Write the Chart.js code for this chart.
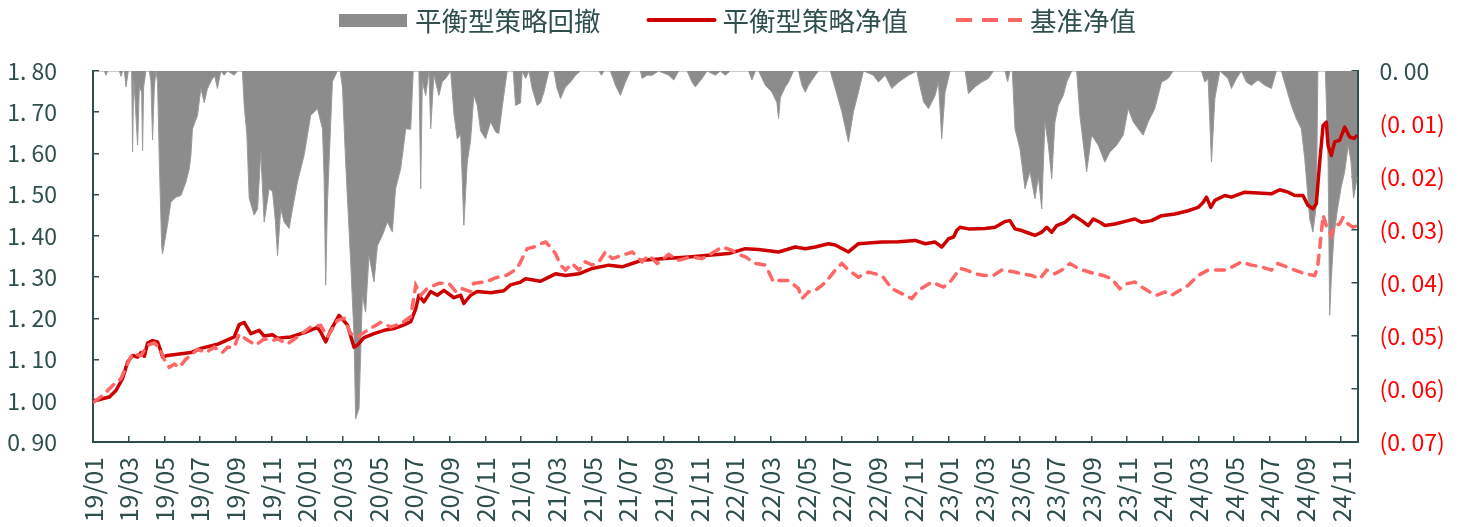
<!DOCTYPE html>
<html>
<head>
<meta charset="utf-8">
<script src="https://cdn.jsdelivr.net/npm/chart.js@4.4.1/dist/chart.umd.min.js"></script>
<style>
  html, body { margin: 0; padding: 0; background: #fff; }
  #wrap { width: 1458px; height: 527px; position: relative; }
</style>
</head>
<body>
<div id="wrap"><canvas id="chart"></canvas></div>
<script>
// x values are months counted from 2019-01 (0 = 19/01)
const tickLabels = [
  '19/01', '19/03', '19/05', '19/07', '19/09', '19/11',
  '20/01', '20/03', '20/05', '20/07', '20/09', '20/11',
  '21/01', '21/03', '21/05', '21/07', '21/09', '21/11',
  '22/01', '22/03', '22/05', '22/07', '22/09', '22/11',
  '23/01', '23/03', '23/05', '23/07', '23/09', '23/11',
  '24/01', '24/03', '24/05', '24/07', '24/09', '24/11'
];

// 平衡型策略净值
const navMonths = [
  0.07, 0.92, 1.29, 1.66, 1.94, 2.22, 2.50, 2.69, 2.88, 3.06, 3.34, 3.62, 3.77, 3.90, 4.18, 4.74,
  5.49, 6.05, 6.98, 7.92, 8.20, 8.48, 8.85, 9.32, 9.60, 10.07, 10.35, 11.09, 11.84, 12.59, 12.77, 13.05,
  13.33, 13.80, 14.27, 14.64, 14.83, 15.20, 15.76, 16.32, 16.88, 17.44, 17.82, 18.10, 18.28, 18.56, 18.94, 19.31,
  19.68, 20.24, 20.62, 20.80, 21.18, 21.55, 22.30, 23.04, 23.42, 23.98, 24.26, 25.10, 25.57, 25.94, 26.50, 27.25,
  28.00, 28.93, 29.68, 30.24, 30.80, 32.10, 33.41, 34.53, 35.65, 36.59, 37.33, 38.45, 39.39, 39.95, 40.51, 41.25,
  41.63, 42.37, 42.93, 44.24, 45.18, 46.11, 46.67, 47.23, 47.60, 47.98, 48.26, 48.44, 48.63, 49.10, 50.03, 50.59,
  51.15, 51.43, 51.71, 52.09, 52.46, 52.83, 53.21, 53.49, 53.77, 54.05, 54.51, 54.98, 55.45, 55.82, 56.10, 56.47,
  56.75, 57.31, 58.06, 58.43, 58.81, 59.37, 59.93, 60.68, 61.42, 61.98, 62.26, 62.45, 62.69, 62.92, 63.48, 63.85,
  64.60, 65.34, 66.09, 66.56, 67.02, 67.40, 67.86, 68.14, 68.42, 68.61, 68.80, 68.99, 69.17, 69.27, 69.45, 69.64,
  69.92, 70.20, 70.48, 70.72, 70.91
];
const navValues = [
  1.000, 1.009, 1.025, 1.054, 1.094, 1.110, 1.106, 1.117, 1.108, 1.140, 1.146, 1.143, 1.125, 1.106, 1.110, 1.113,
  1.117, 1.127, 1.137, 1.155, 1.185, 1.190, 1.163, 1.171, 1.157, 1.160, 1.152, 1.155, 1.165, 1.178, 1.167, 1.143,
  1.171, 1.207, 1.184, 1.130, 1.135, 1.153, 1.163, 1.171, 1.175, 1.184, 1.192, 1.223, 1.256, 1.240, 1.265, 1.256,
  1.268, 1.250, 1.256, 1.236, 1.256, 1.265, 1.262, 1.267, 1.281, 1.288, 1.296, 1.290, 1.300, 1.308, 1.304, 1.308,
  1.321, 1.329, 1.325, 1.333, 1.341, 1.345, 1.349, 1.353, 1.357, 1.369, 1.367, 1.361, 1.373, 1.369, 1.373, 1.381,
  1.378, 1.361, 1.381, 1.385, 1.386, 1.389, 1.381, 1.385, 1.373, 1.393, 1.397, 1.413, 1.421, 1.417, 1.418, 1.421,
  1.435, 1.437, 1.417, 1.413, 1.407, 1.401, 1.409, 1.421, 1.409, 1.425, 1.433, 1.450, 1.437, 1.425, 1.441, 1.433,
  1.425, 1.429, 1.437, 1.441, 1.433, 1.437, 1.449, 1.453, 1.461, 1.469, 1.481, 1.494, 1.469, 1.486, 1.498, 1.494,
  1.506, 1.504, 1.502, 1.512, 1.506, 1.498, 1.498, 1.474, 1.466, 1.478, 1.579, 1.668, 1.676, 1.619, 1.595, 1.628,
  1.632, 1.664, 1.640, 1.636, 1.644
];

// 基准净值
const benchMonths = [
  0.07, 0.64, 1.10, 1.57, 1.94, 2.22, 2.69, 3.06, 3.44, 3.72, 3.98, 4.28, 4.56, 4.84, 5.21, 5.49,
  5.86, 6.33, 6.80, 7.26, 7.54, 7.92, 8.20, 8.57, 9.13, 9.60, 10.07, 10.35, 10.91, 11.47, 12.21, 12.77,
  13.15, 13.71, 14.08, 14.45, 14.83, 15.39, 16.13, 16.69, 17.26, 17.82, 18.10, 18.38, 18.75, 19.40, 19.96, 20.34,
  20.62, 21.18, 21.36, 22.11, 22.48, 23.23, 23.79, 23.98, 24.35, 24.73, 25.10, 25.38, 25.66, 25.94, 26.22, 26.50,
  26.87, 27.25, 27.62, 28.00, 28.37, 28.74, 29.12, 29.68, 30.24, 30.80, 31.17, 31.64, 32.29, 32.85, 33.60, 34.16,
  34.53, 35.28, 35.84, 36.12, 36.59, 37.15, 37.71, 38.17, 38.45, 39.01, 39.57, 39.76, 40.13, 40.51, 40.88, 41.25,
  41.63, 42.00, 42.37, 42.93, 43.49, 44.24, 44.80, 45.36, 45.92, 46.30, 47.04, 47.70, 48.07, 48.63, 49.00, 49.47,
  50.03, 50.50, 50.96, 51.62, 52.09, 52.65, 53.11, 53.49, 53.95, 54.33, 54.79, 55.26, 55.82, 56.19, 56.66, 57.13,
  57.59, 57.97, 58.43, 58.81, 59.27, 59.65, 60.12, 60.49, 60.96, 61.42, 61.98, 62.54, 63.10, 63.57, 64.41, 64.97,
  65.53, 66.09, 66.46, 66.93, 67.40, 67.96, 68.52, 68.67, 68.80, 68.99, 69.17, 69.45, 69.64, 69.92, 70.11, 70.39,
  70.67, 70.91
];
const benchValues = [
  0.997, 1.017, 1.037, 1.054, 1.090, 1.114, 1.110, 1.135, 1.140, 1.130, 1.101, 1.081, 1.089, 1.081, 1.101, 1.110,
  1.125, 1.117, 1.130, 1.117, 1.130, 1.130, 1.162, 1.150, 1.135, 1.150, 1.146, 1.150, 1.138, 1.155, 1.179, 1.183,
  1.155, 1.195, 1.200, 1.163, 1.155, 1.171, 1.190, 1.179, 1.187, 1.204, 1.280, 1.256, 1.273, 1.285, 1.285, 1.265,
  1.273, 1.265, 1.285, 1.289, 1.297, 1.305, 1.321, 1.337, 1.369, 1.373, 1.381, 1.385, 1.373, 1.357, 1.329, 1.317,
  1.333, 1.317, 1.337, 1.329, 1.337, 1.361, 1.345, 1.353, 1.361, 1.337, 1.353, 1.333, 1.355, 1.341, 1.349, 1.345,
  1.353, 1.373, 1.365, 1.357, 1.349, 1.333, 1.329, 1.288, 1.292, 1.292, 1.272, 1.248, 1.264, 1.268, 1.280, 1.296,
  1.317, 1.333, 1.317, 1.300, 1.312, 1.304, 1.272, 1.260, 1.248, 1.268, 1.288, 1.276, 1.288, 1.321, 1.317, 1.308,
  1.304, 1.304, 1.317, 1.313, 1.308, 1.304, 1.296, 1.317, 1.308, 1.317, 1.333, 1.321, 1.313, 1.308, 1.304, 1.296,
  1.272, 1.284, 1.288, 1.276, 1.264, 1.256, 1.264, 1.256, 1.268, 1.280, 1.304, 1.317, 1.317, 1.317, 1.337, 1.329,
  1.325, 1.317, 1.333, 1.325, 1.317, 1.308, 1.304, 1.321, 1.369, 1.450, 1.425, 1.401, 1.425, 1.429, 1.445, 1.429,
  1.421, 1.425
];

// 平衡型策略回撤 (right axis)
const ddMonths = [
  0.07, 0.64, 0.73, 0.82, 1.48, 1.57, 1.66, 1.76, 1.85, 1.98, 2.17, 2.22, 2.28, 2.35, 2.50, 2.60,
  2.73, 2.78, 2.84, 2.97, 3.16, 3.25, 3.34, 3.44, 3.53, 3.62, 3.72, 3.85, 3.90, 4.03, 4.18, 4.37,
  4.65, 4.93, 5.21, 5.40, 5.49, 5.58, 5.86, 6.05, 6.24, 6.42, 6.70, 6.83, 6.98, 7.17, 7.36, 7.54,
  7.92, 8.10, 8.38, 8.48, 8.63, 8.76, 9.04, 9.23, 9.41, 9.60, 9.88, 10.07, 10.22, 10.35, 10.53, 10.72,
  11.00, 11.19, 11.47, 11.84, 12.21, 12.59, 12.87, 12.96, 13.05, 13.15, 13.24, 13.43, 13.71, 13.86, 13.99, 14.17,
  14.45, 14.64, 14.73, 14.92, 15.11, 15.29, 15.48, 15.76, 15.95, 16.23, 16.51, 16.79, 16.97, 17.26, 17.54, 17.82,
  17.96, 18.28, 18.38, 18.47, 18.66, 18.84, 18.94, 19.12, 19.40, 19.59, 19.78, 20.06, 20.24, 20.43, 20.62, 20.80,
  20.99, 21.18, 21.36, 21.55, 21.74, 22.02, 22.30, 22.58, 22.76, 23.04, 23.23, 23.57, 23.70, 23.98, 24.07, 24.26,
  24.45, 24.63, 24.91, 25.10, 25.29, 25.57, 25.85, 26.03, 26.22, 26.50, 26.78, 27.06, 27.34, 28.37, 28.52, 28.65,
  29.02, 29.30, 29.58, 29.86, 30.14, 30.70, 30.80, 31.08, 31.36, 31.73, 32.29, 32.57, 32.85, 33.32, 33.60, 33.78,
  34.16, 34.44, 34.90, 35.18, 35.46, 35.74, 36.77, 36.96, 37.15, 37.33, 37.71, 38.08, 38.36, 38.45, 38.55, 38.83,
  39.01, 39.29, 39.57, 39.76, 39.95, 40.13, 40.51, 40.69, 41.35, 41.63, 42.00, 42.37, 42.65, 42.93, 43.21, 43.77,
  44.05, 44.43, 44.80, 45.18, 45.74, 46.20, 46.39, 46.58, 46.86, 47.23, 47.42, 47.60, 47.79, 48.07, 48.91, 49.10,
  49.47, 49.84, 50.22, 50.50, 51.15, 51.30, 51.43, 51.56, 51.71, 51.99, 52.27, 52.55, 52.83, 53.02, 53.21, 53.39,
  53.58, 53.77, 53.95, 54.14, 54.42, 54.61, 54.89, 55.17, 55.35, 55.73, 56.01, 56.38, 56.75, 57.03, 57.41, 57.78,
  58.06, 58.34, 58.62, 58.90, 59.18, 59.55, 59.93, 60.30, 60.58, 62.17, 62.36, 62.54, 62.73, 62.92, 63.20, 63.66,
  63.85, 64.13, 64.41, 64.69, 64.97, 65.34, 65.72, 66.09, 66.37, 66.65, 66.93, 67.21, 67.49, 67.77, 67.96, 68.24,
  68.42, 68.61, 68.70, 69.12, 69.27, 69.36, 69.45, 69.60, 69.80, 70.00, 70.20, 70.40, 70.55, 70.70, 70.91
];
const ddValues = [
  0, 0, -0.0008, 0, 0, -0.001, 0, 0, -0.003, 0, 0, -0.0153, -0.002, -0.005, -0.014, -0.003,
  -0.004, -0.015, -0.003, 0, 0, -0.002, -0.013, -0.003, 0, -0.002, -0.017, -0.033, -0.0345, -0.032, -0.029, -0.0247,
  -0.0238, -0.0235, -0.021, -0.0184, -0.016, -0.0109, -0.0084, -0.0033, -0.006, -0.0033, -0.0014, -0.001, -0.0033, 0, -0.0008, 0,
  -0.0008, 0, 0, -0.0065, -0.012, -0.024, -0.0272, -0.026, -0.0153, -0.0285, -0.0222, -0.0228, -0.028, -0.0348, -0.026, -0.0285,
  -0.0297, -0.026, -0.0209, -0.0159, -0.0084, -0.0071, -0.0109, -0.02, -0.0404, -0.025, -0.0172, -0.002, 0, 0, -0.003, -0.0172,
  -0.036, -0.05, -0.0656, -0.0637, -0.0423, -0.0455, -0.0348, -0.0398, -0.033, -0.031, -0.0285, -0.0304, -0.0222, -0.0184, -0.0109, -0.011,
  0, 0, -0.0222, -0.002, -0.0046, 0, -0.0109, -0.0008, -0.0046, -0.002, -0.0014, 0, -0.008, -0.0128, -0.012, -0.0291,
  -0.0172, -0.013, -0.0046, -0.0065, -0.0113, -0.0128, -0.0096, -0.0115, -0.0118, -0.0046, 0, 0, -0.0065, -0.006, 0, -0.0014,
  0, -0.0033, -0.0065, -0.006, -0.004, 0, 0, -0.0033, -0.0052, -0.003, -0.0021, -0.0008, 0, 0, -0.0008, 0,
  0, -0.0027, -0.0046, -0.0021, 0, 0, -0.0014, -0.0008, -0.0008, 0, -0.0008, -0.0017, 0, 0, -0.0021, -0.003,
  -0.0014, 0, -0.0008, 0, -0.0008, 0, 0, -0.0017, 0, 0, -0.0027, -0.004, -0.006, -0.009, -0.005, -0.003,
  -0.0021, 0, 0, -0.0027, -0.004, -0.0027, -0.0008, 0, 0, -0.0033, -0.0077, -0.0134, -0.0077, -0.004, 0, -0.0008,
  -0.0021, -0.0008, -0.0033, -0.0021, -0.0008, 0, -0.003, -0.0058, -0.0071, -0.0046, -0.0021, -0.0128, -0.004, 0, 0, -0.0043,
  -0.003, -0.0021, -0.0014, 0, 0, -0.002, 0, 0, -0.0109, -0.0147, -0.0222, -0.019, -0.0241, -0.02, -0.026, -0.0096,
  -0.014, -0.0203, -0.0096, -0.0065, -0.0046, -0.0021, 0, 0, -0.0084, -0.019, -0.0121, -0.014, -0.0172, -0.0153, -0.014, -0.0121,
  -0.0071, -0.0096, -0.0109, -0.0121, -0.0096, -0.0071, -0.0021, -0.0014, 0, 0, -0.0021, -0.0014, -0.0172, -0.0052, 0, -0.0014,
  -0.0033, -0.0014, 0, -0.0021, -0.0027, -0.0017, -0.0027, -0.0033, 0, 0, -0.0033, -0.0065, -0.009, -0.0109, -0.0165, -0.0279,
  -0.0304, -0.0254, 0, 0, -0.017, -0.0461, -0.0392, -0.031, -0.026, -0.022, -0.019, -0.014, -0.017, -0.024, -0.02
];

const FONT = '"Noto Sans CJK SC", "Noto Sans", sans-serif';
const COLORS = {
    axis: '#2f4f4f',
    negative: '#ff0000',
    drawdown: '#8c8c8c',
    nav: '#cc0000',
    bench: '#ff6666'
};

const toPoints = (xs, ys) => xs.map((x, i) => ({ x, y: ys[i] }));
const fmt = v => v.toFixed(2).replace('.', '. ');

const legendItems = [
    { label: '平衡型策略回撤', kind: 'box', color: COLORS.drawdown },
    { label: '平衡型策略净值', kind: 'line', color: COLORS.nav },
    { label: '基准净值', kind: 'dash', color: COLORS.bench }
];

// legend drawn by hand so the spacing matches the original
const topLegend = {
    id: 'topLegend',
    afterDraw(chart) {
        const ctx = chart.ctx;
        const y = 20;
        let x = 339;
        ctx.save();
        ctx.font = `26.5px ${FONT}`;
        ctx.textBaseline = 'middle';
        legendItems.forEach(item => {
            if (item.kind === 'box') {
                ctx.fillStyle = item.color;
                ctx.fillRect(x, y - 6, 68, 13);
            } else {
                ctx.strokeStyle = item.color;
                ctx.lineWidth = 4;
                ctx.lineCap = item.kind === 'dash' ? 'butt' : 'round';
                ctx.setLineDash(item.kind === 'dash' ? [16, 10] : []);
                ctx.beginPath();
                ctx.moveTo(x + 2, y);
                ctx.lineTo(x + 68, y);
                ctx.stroke();
                ctx.setLineDash([]);
            }
            ctx.fillStyle = COLORS.axis;
            ctx.fillText(item.label, x + 76, y + 1);
            x += 76 + ctx.measureText(item.label).width + 46;
        });
        ctx.restore();
    }
};

const axisBorder = { display: true, color: COLORS.axis, width: 2 };
const axisGrid = { drawOnChartArea: false, drawTicks: true, tickLength: -6, color: COLORS.axis, lineWidth: 1.5 };

Chart.defaults.font.family = FONT;

new Chart(document.getElementById('chart'), {
    type: 'line',
    data: {
        datasets: [
            {
                label: '基准净值',
                data: toPoints(benchMonths, benchValues),
                yAxisID: 'y',
                borderColor: COLORS.bench,
                borderWidth: 3.5,
                borderDash: [9, 8],
                borderCapStyle: 'round',
                pointRadius: 0,
                tension: 0,
                order: 1
            },
            {
                label: '平衡型策略净值',
                data: toPoints(navMonths, navValues),
                yAxisID: 'y',
                borderColor: COLORS.nav,
                borderWidth: 3.5,
                borderJoinStyle: 'round',
                pointRadius: 0,
                tension: 0,
                order: 2
            },
            {
                label: '平衡型策略回撤',
                data: toPoints(ddMonths, ddValues),
                yAxisID: 'y1',
                borderColor: '#9a9a9a',
                borderWidth: 1,
                backgroundColor: COLORS.drawdown,
                fill: 'origin',
                pointRadius: 0,
                tension: 0,
                order: 3
            }
        ]
    },
    options: {
        responsive: true,
        maintainAspectRatio: false,
        animation: false,
        layout: { padding: { top: 71, left: 0, right: 0, bottom: 0 } },
        plugins: {
            legend: { display: false },
            tooltip: { enabled: false }
        },
        scales: {
            x: {
                type: 'linear',
                min: 0,
                max: 70.92,
                border: axisBorder,
                grid: axisGrid,
                ticks: {
                    stepSize: 2,
                    includeBounds: false,
                    autoSkip: false,
                    minRotation: 90,
                    maxRotation: 90,
                    padding: 21,
                    color: COLORS.axis,
                    font: { size: 25 },
                    callback: v => tickLabels[Math.round(v / 2)] ?? ''
                },
                afterFit: s => { s.height = 85; }
            },
            y: {
                position: 'left',
                min: 0.9,
                max: 1.8,
                border: axisBorder,
                grid: axisGrid,
                ticks: {
                    stepSize: 0.1,
                    padding: 42,
                    color: COLORS.axis,
                    font: { size: 23 },
                    callback: v => fmt(v)
                },
                afterFit: s => { s.width = 93; }
            },
            y1: {
                position: 'right',
                min: -0.07,
                max: 0,
                border: axisBorder,
                grid: axisGrid,
                ticks: {
                    stepSize: 0.01,
                    padding: 28,
                    font: { size: 23 },
                    color: c => (c.tick && c.tick.value < -1e-9 ? COLORS.negative : COLORS.axis),
                    callback: v => (v < -1e-9 ? `(${fmt(Math.abs(v))})` : fmt(0))
                },
                afterFit: s => { s.width = 100.5; }
            }
        }
    },
    plugins: [topLegend]
});
</script>
</body>
</html>
